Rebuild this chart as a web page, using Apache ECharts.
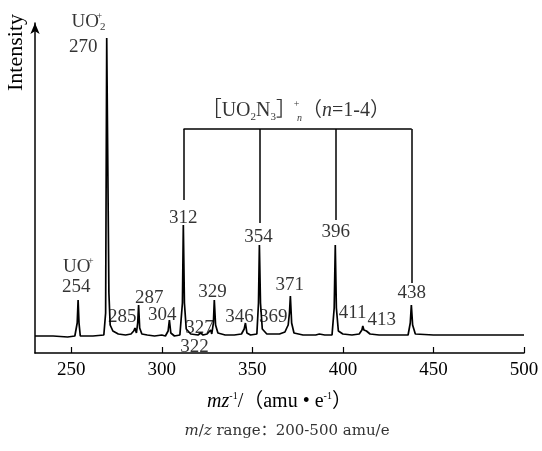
<!DOCTYPE html>
<html>
<head>
<meta charset="utf-8">
<script src="https://cdn.jsdelivr.net/npm/echarts@6/dist/echarts.min.js"></script>
<style>html,body{margin:0;padding:0;background:#fff;}#c{width:542px;height:451px;}</style>
</head>
<body>
<div id="c"></div>
<script>
// spectrum (m/z, intensity in arbitrary units)
const mz = [230,240,248,252,253.3,253.8,254.3,255,262,268,269,269.6,270.2,270.8,271.5,273,276,280,283,284.5,285.2,286,286.7,287.2,287.8,289,292,296,300,302,303.5,304.2,305,307,310,311.4,311.9,312.5,313.5,316,320,321.5,322,322.8,325,327,327.6,328.5,329,329.7,331,335,340,344,345.5,346.2,347,349,352.5,353.4,353.9,354.5,355.5,358,365,368,369,369.8,370.5,371,371.7,373,378,385,387,390,394,395.2,395.8,396.4,397.5,400,405,409,410.5,411,411.6,412.3,413,415,420,423,426,430,436,437.2,437.8,438.5,440,450,460,470,480,490,500];
const intensity = [17,17,16,17,30,53,30,17,17,18,40,315,315,60,28,22,19,18,19,22,25,20,30,48,25,19,18,17,18,17,22,33,20,17,18,50,128,50,24,19,18,20,22,18,19,23,19,30,53,28,20,18,18,19,24,30,20,18,19,50,108,50,24,19,19,21,25,28,40,57,30,20,18,18,19,18,18,45,108,45,22,19,18,19,23,27,23,25,22,19,18,18,18,18,18,30,48,28,19,18,18,18,18,18,18];

// peak labels
const peakText = ['254','270','285','287','304','312','322','327','329','346','354','369','371','396','411','413','438'];
const peakTextMz = [252.8,256.6,278.2,293.1,300.3,311.9,318,320.8,328,342.9,353.4,361.6,370.6,396,405.4,421.5,438];
const peakTextInt = [66,306,36,55,38,135,6,25,61,36,116,36,68,121,40,33,60];

// ion labels
const ionText = ['{a|UO}{p|+}', '{a|UO}{p|+}{b|2}'];
const ionMz = [253.3, 259.5];
const ionInt = [86, 331];

// bracket for [UO2N3]n+
const bracketMz = [312, 354, 396, 438];
const bracketLow = [153, 130, 133, 70];
const bracketTop = 224;
const bracketLabel = '{t|［UO}{s|2}{t|N}{s|3}{t|］}{p|+}{si|n}{t|（}{i|n}{t|=1-4）}';
const bracketLabelMz = 374;
const bracketLabelInt = 242;

// axis
const xTicks = [250, 300, 350, 400, 450, 500];

const FONT = '"Liberation Serif","Noto Sans CJK SC",serif';
const chart = echarts.init(document.getElementById('c'), null, {renderer: 'canvas'});

const markLines = [];
markLines.push([{coord: [bracketMz[0], bracketTop]}, {coord: [bracketMz[3], bracketTop]}]);
bracketMz.forEach((m, i) => markLines.push([{coord: [m, bracketTop]}, {coord: [m, bracketLow[i]]}]));

const richBase = {
  a: {fontFamily: FONT, fontSize: 19, color: '#000', lineHeight: 22},
  p: {fontFamily: FONT, fontSize: 10, color: '#000', verticalAlign: 'top', width: 1, lineHeight: 22},
  b: {fontFamily: FONT, fontSize: 11, color: '#000', verticalAlign: 'bottom', lineHeight: 12}
};

chart.setOption({
  animation: false,
  backgroundColor: '#fff',
  grid: {left: 35, right: 18, top: 23, bottom: 98},
  xAxis: {
    type: 'value', min: 230, max: 500,
    name: '{i|mz}{s|-1}{t|/（amu • e}{s|-1}{t|）}',
    nameLocation: 'middle', nameGap: 38,
    nameTextStyle: {
      rich: {
        i: {fontFamily: FONT, fontStyle: 'italic', fontSize: 20, color: '#000'},
        t: {fontFamily: FONT, fontSize: 20, color: '#000'},
        s: {fontFamily: FONT, fontSize: 10, color: '#000', verticalAlign: 'top', lineHeight: 22}
      }
    },
    axisLine: {lineStyle: {color: '#000', width: 1.5}},
    axisTick: {inside: true, length: 6, lineStyle: {color: '#000', width: 1.2}, customValues: xTicks},
    axisLabel: {fontFamily: FONT, fontSize: 19, color: '#000', margin: 8, customValues: xTicks},
    splitLine: {show: false}
  },
  yAxis: {
    type: 'value', min: 0, max: 330,
    axisLine: {show: true, symbol: ['none', 'arrow'], symbolSize: [7, 11], lineStyle: {color: '#000', width: 1.5}},
    axisTick: {show: false}, axisLabel: {show: false}, splitLine: {show: false}
  },
  graphic: [
    {type: 'text', left: 5, top: 14, rotation: Math.PI / 2,
     style: {text: 'Intensity', fontFamily: FONT, fontSize: 22, fill: '#000'}},
    {type: 'text', x: 287, y: 431,
     style: {text: '{i|m}/{i|z} range：200-500 amu/e', textAlign: 'center', textVerticalAlign: 'middle',
       rich: {i: {fontFamily: '"DejaVu Serif",serif', fontStyle: 'italic', fontSize: 15, fill: '#333'}},
       fontFamily: '"DejaVu Serif","Noto Sans CJK SC",serif', fontSize: 15, fill: '#333'}}
  ],
  series: [
    {
      type: 'line', data: mz.map((m, i) => [m, intensity[i]]),
      showSymbol: false, symbol: 'none',
      lineStyle: {color: '#000', width: 1.7}, silent: true
    },
    {
      type: 'scatter', clip: false, symbolSize: 1, itemStyle: {color: 'rgba(0,0,0,0)'},
      data: peakText.map((t, i) => ({value: [peakTextMz[i], peakTextInt[i]], name: t})),
      label: {show: true, position: 'inside', formatter: p => p.name, fontFamily: FONT, fontSize: 19, color: '#000'},
      markLine: {silent: true, symbol: ['none', 'none'], label: {show: false},
        lineStyle: {color: '#000', width: 1.5, type: 'solid'}, data: markLines}
    },
    {
      type: 'scatter', clip: false, symbolSize: 1, itemStyle: {color: 'rgba(0,0,0,0)'},
      data: ionText.map((t, i) => ({value: [ionMz[i], ionInt[i]], name: t})),
      label: {show: true, position: 'inside', formatter: p => p.name, rich: richBase}
    },
    {
      type: 'scatter', clip: false, symbolSize: 1, itemStyle: {color: 'rgba(0,0,0,0)'},
      data: [{value: [bracketLabelMz, bracketLabelInt], name: bracketLabel}],
      label: {show: true, position: 'inside', formatter: p => p.name, rich: {
        t: {fontFamily: FONT, fontSize: 20, color: '#000', lineHeight: 24},
        i: {fontFamily: FONT, fontStyle: 'italic', fontSize: 20, color: '#000', lineHeight: 24},
        s: {fontFamily: FONT, fontSize: 11, color: '#000', verticalAlign: 'bottom', lineHeight: 12},
        p: {fontFamily: FONT, fontSize: 10, color: '#000', verticalAlign: 'top', width: 1, lineHeight: 24},
        si: {fontFamily: FONT, fontStyle: 'italic', fontSize: 10, color: '#000', verticalAlign: 'bottom', lineHeight: 12}
      }}
    }
  ]
});
</script>
</body>
</html>
